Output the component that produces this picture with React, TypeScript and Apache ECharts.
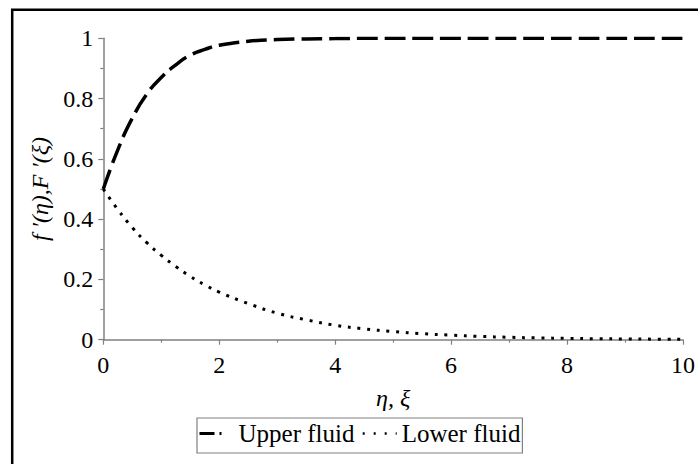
import React, { useEffect, useRef } from "react";
import * as echarts from "echarts";

const etaValues = [0, 0.25, 0.5, 0.75, 1, 1.25, 1.5, 1.75, 2, 2.5, 3, 3.5, 4, 4.5, 5, 5.5, 6, 6.5, 7, 7.5, 8, 8.5, 9, 9.5, 10];
const upperFluid = [0.5, 0.63, 0.735, 0.815, 0.87, 0.912, 0.944, 0.963, 0.977, 0.99, 0.996, 0.998, 0.999, 1, 1, 1, 1, 1, 1, 1, 1, 1, 1, 1, 1];
const lowerFluid = [0.5, 0.432, 0.372, 0.322, 0.28, 0.243, 0.21, 0.182, 0.158, 0.12, 0.088, 0.066, 0.048, 0.036, 0.027, 0.02, 0.015, 0.011, 0.008, 0.006, 0.0045, 0.0033, 0.0025, 0.0018, 0.0013];
const seriesNames = ["Upper fluid", "Lower fluid"];
const xAxisName = "η, ξ";
const yAxisName = "f ′(η),F ′(ξ)";

const SERIF = "Liberation Serif, Times New Roman, DejaVu Serif, serif";

export default function App() {
  const ref = useRef<HTMLDivElement>(null);
  useEffect(() => {
    if (!ref.current) return;
    const chart = echarts.init(ref.current, null, { renderer: "svg" });
    const axisGray = "#808080";
    const hidden = { color: "rgba(0,0,0,0)", borderColor: "rgba(0,0,0,0)", borderWidth: 0, opacity: 0 };
    const txt = { fontFamily: SERIF, fontSize: 24, color: "#000", fontWeight: "normal" as const, fontStyle: "normal" as const };
    chart.setOption({
      animation: false,
      backgroundColor: "#ffffff",
      textStyle: { fontFamily: SERIF },
      grid: { left: 103.3, right: 15, top: 38.3, bottom: 124.3, containLabel: false },
      graphic: [
        {
          type: "rect",
          x: 12.2,
          y: 9.7,
          shape: { x: 0, y: 0, width: 720, height: 520 },
          style: { fill: "none", stroke: "#000", lineWidth: 2.5 },
          silent: true,
          z: 100,
        },
      ],
      xAxis: {
        type: "value",
        min: 0,
        max: 10,
        interval: 2,
        name: xAxisName,
        nameLocation: "middle",
        nameGap: 46,
        nameTextStyle: { ...txt, fontStyle: "italic" },
        axisLine: { show: true, onZero: false, lineStyle: { color: axisGray, width: 1.5 } },
        axisTick: { show: true, length: 5, inside: false, lineStyle: { color: axisGray, width: 1.2 } },
        minorTick: { show: true, splitNumber: 2, length: 3, lineStyle: { color: axisGray, width: 1.2 } },
        axisLabel: { ...txt, margin: 13 },
        splitLine: { show: false },
        minorSplitLine: { show: false },
      },
      yAxis: {
        type: "value",
        min: 0,
        max: 1,
        interval: 0.2,
        name: yAxisName,
        nameLocation: "middle",
        nameGap: 43,
        nameRotate: 90,
        nameTextStyle: { ...txt, fontStyle: "italic" },
        axisLine: { show: true, onZero: false, lineStyle: { color: axisGray, width: 1.5 } },
        axisTick: { show: true, length: 5, inside: false, lineStyle: { color: axisGray, width: 1.2 } },
        minorTick: { show: true, splitNumber: 2, length: 3, lineStyle: { color: axisGray, width: 1.2 } },
        axisLabel: { ...txt, margin: 10 },
        splitLine: { show: false },
        minorSplitLine: { show: false },
      },
      legend: {
        show: true,
        left: 197,
        top: 418,
        orient: "horizontal",
        padding: [3, 2, 7, 1],
        itemGap: 7,
        itemWidth: 34,
        itemHeight: 14,
        borderColor: axisGray,
        borderWidth: 1.2,
        borderRadius: 0,
        textStyle: { ...txt, fontSize: 25 },
        data: [
          { name: seriesNames[0], itemStyle: hidden, lineStyle: { color: "#000", width: 3, type: [15, 5, 2, 20] } },
          { name: seriesNames[1], itemStyle: hidden, lineStyle: { color: "#000", width: 2.5, type: [2, 9] } },
        ],
      },
      series: [
        {
          name: seriesNames[0],
          type: "line",
          smooth: true,
          symbol: "none",
          showSymbol: false,
          data: etaValues.map((x, i) => [x, upperFluid[i]]),
          lineStyle: { color: "#000", width: 3.5, type: [20.7, 7], cap: "butt" },
          itemStyle: { color: "#000" },
        },
        {
          name: seriesNames[1],
          type: "line",
          smooth: true,
          symbol: "none",
          showSymbol: false,
          data: etaValues.map((x, i) => [x, lowerFluid[i]]),
          lineStyle: { color: "#000", width: 3, type: [3, 6.7], cap: "butt" },
          itemStyle: { color: "#000" },
        },
      ],
    });
    return () => chart.dispose();
  }, []);
  return (
    <div
      ref={ref}
      style={{ position: "absolute", left: 0, top: 0, width: 698, height: 464, background: "#fff" }}
    />
  );
}
